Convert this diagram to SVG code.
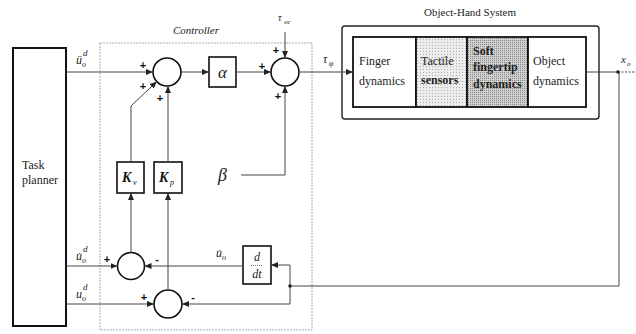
<svg xmlns="http://www.w3.org/2000/svg" width="636" height="334" viewBox="0 0 636 334">
<defs>
<marker id="ar" markerUnits="userSpaceOnUse" markerWidth="7" markerHeight="6" refX="7" refY="3" orient="auto">
<path d="M0,0 L7,3 L0,6 z" fill="#222"/>
</marker>
<pattern id="dots1" width="3" height="3" patternUnits="userSpaceOnUse">
<rect width="3" height="3" fill="#ececec"/><rect width="1" height="1" fill="#b0b0b0"/>
</pattern>
<pattern id="dots2" width="2" height="2" patternUnits="userSpaceOnUse">
<rect width="2" height="2" fill="#d0d0d0"/><rect width="1" height="1" fill="#888"/>
</pattern>
</defs>
<style>
.blk{fill:#fff;stroke:#111;stroke-width:1.6}
.sum{fill:#fff;stroke:#111;stroke-width:1.6}
.ln{fill:none;stroke:#444;stroke-width:1}
.t{font-family:"Liberation Serif","DejaVu Serif",serif;fill:#111}
.lbl{font-family:"Liberation Serif","DejaVu Serif",serif;font-size:11px;fill:#222}
.bx{font-family:"Liberation Serif","DejaVu Serif",serif;font-size:12px;fill:#222}
.sg{font-family:"Liberation Sans",sans-serif;font-size:11px;font-weight:bold;fill:#111}
.math{font-family:"Liberation Serif","DejaVu Serif",serif;font-style:italic;fill:#222}
</style>
<rect width="636" height="334" fill="#fff"/>

<g id="controller-frame">
<rect x="100" y="43" width="212" height="287" fill="none" stroke="#aaa" stroke-width="1" stroke-dasharray="2,1"/>
<text class="lbl" x="196" y="34" text-anchor="middle" font-style="italic">Controller</text>
</g>

<g id="task-planner">
<rect x="13" y="48" width="53" height="278" fill="#fff" stroke="#111" stroke-width="2"/>
<text class="bx" x="22" y="169" font-size="11">Task</text>
<text class="bx" x="22" y="184" font-size="11">planner</text>
</g>

<g id="sum1"><circle class="sum" cx="167" cy="72" r="14"/></g>
<g id="alpha"><rect class="blk" x="209" y="57" width="27" height="30"/><text class="math" x="222.5" y="78" font-size="17" text-anchor="middle">α</text></g>
<g id="sum2"><circle class="sum" cx="285" cy="72" r="14"/></g>
<g id="Kv"><rect class="blk" x="117" y="162" width="27" height="31"/><text class="t" x="122" y="182" font-size="14" font-weight="bold" font-style="italic">K</text><text class="t" x="133" y="185" font-size="8" font-style="italic">v</text></g>
<g id="Kp"><rect class="blk" x="154" y="162" width="28" height="31"/><text class="t" x="159" y="182" font-size="14" font-weight="bold" font-style="italic">K</text><text class="t" x="170" y="185" font-size="8" font-style="italic">p</text></g>
<g id="beta"><text class="math" x="218" y="181" font-size="18">β</text></g>
<g id="sum3"><circle class="sum" cx="131" cy="266" r="13.5"/></g>
<g id="sum4"><circle class="sum" cx="168" cy="304" r="14"/></g>
<g id="ddt"><rect class="blk" x="243" y="246" width="28" height="38"/>
<text class="math" x="257" y="261" font-size="12" text-anchor="middle">d</text>
<line x1="251" y1="265.5" x2="263" y2="265.5" stroke="#555" stroke-width="0.8" stroke-dasharray="1,1"/>
<text class="math" x="257" y="278" font-size="12" text-anchor="middle">dt</text></g>

<g id="object-hand-system">
<rect x="342" y="26" width="257" height="93" rx="3" fill="#fff" stroke="#222" stroke-width="1.4"/>
<text class="lbl" x="470" y="16" text-anchor="middle">Object-Hand System</text>
<rect x="353" y="37" width="63" height="70" fill="#fff" stroke="#111" stroke-width="1.8"/>
<rect x="416" y="37" width="51" height="70" fill="url(#dots1)" stroke="#111" stroke-width="1.8"/>
<rect x="467" y="37" width="61" height="70" fill="url(#dots2)" stroke="#111" stroke-width="1.8"/>
<rect x="528" y="37" width="58" height="70" fill="#fff" stroke="#111" stroke-width="1.8"/>
<text class="bx" x="359" y="65">Finger</text>
<text class="bx" x="359" y="85">dynamics</text>
<text class="bx" x="421" y="65">Tactile</text>
<text class="bx" x="421" y="84" font-weight="bold">sensors</text>
<text class="bx" x="473" y="55" font-weight="bold">Soft</text>
<text class="bx" x="473" y="71" font-weight="bold">fingertip</text>
<text class="bx" x="473" y="88" font-weight="bold">dynamics</text>
<text class="bx" x="533" y="65">Object</text>
<text class="bx" x="533" y="85">dynamics</text>
</g>

<g id="connectors">
<line class="ln" x1="66" y1="72" x2="153" y2="72" marker-end="url(#ar)"/>
<line class="ln" x1="181" y1="72" x2="209" y2="72" marker-end="url(#ar)"/>
<line class="ln" x1="236" y1="72" x2="271" y2="72" marker-end="url(#ar)"/>
<line class="ln" x1="285" y1="32" x2="285" y2="58" marker-end="url(#ar)"/>
<line class="ln" x1="299" y1="72" x2="353" y2="72" marker-end="url(#ar)"/>
<polyline class="ln" points="131,162 131,106 156.8,81.6" marker-end="url(#ar)"/>
<line class="ln" x1="168" y1="162" x2="168" y2="86" marker-end="url(#ar)"/>
<polyline class="ln" points="241,175 285,175 285,86" marker-end="url(#ar)"/>
<line class="ln" x1="131" y1="252.5" x2="131" y2="193" marker-end="url(#ar)"/>
<line class="ln" x1="168" y1="290" x2="168" y2="193" marker-end="url(#ar)"/>
<line class="ln" x1="66" y1="266" x2="117.5" y2="266" marker-end="url(#ar)"/>
<line class="ln" x1="66" y1="304" x2="154" y2="304" marker-end="url(#ar)"/>
<line class="ln" x1="243" y1="266" x2="144.5" y2="266" marker-end="url(#ar)"/>
<polyline class="ln" points="290,286 290,304 182,304" marker-end="url(#ar)"/>
<polyline class="ln" points="290,286 290,265 271,265" marker-end="url(#ar)"/>
<line class="ln" x1="586" y1="72" x2="618" y2="72"/>
<line class="ln" x1="618" y1="72" x2="636" y2="72" stroke-dasharray="2,1.5"/>
<polyline class="ln" points="619,72 619,286 290,286" stroke-width="1.3"/>
<circle cx="618" cy="72" r="1.8" fill="#222"/>
<circle cx="290" cy="286" r="1.8" fill="#222"/>
</g>

<g id="labels">
<text class="math" x="76" y="64" font-size="12">ü</text><text class="math" x="82" y="67" font-size="8">o</text><text class="math" x="83" y="56" font-size="9">d</text>
<text class="math" x="278" y="21" font-size="10">τ</text><text class="math" x="284" y="24" font-size="7">oc</text>
<text class="math" x="323" y="63" font-size="12">τ</text><text class="math" x="329" y="66" font-size="8">φ</text>
<text class="math" x="621" y="63" font-size="11">x</text><text class="math" x="627" y="66" font-size="7">o</text>
<text class="math" x="76" y="260" font-size="12">u̇</text><text class="math" x="82" y="263" font-size="8">o</text><text class="math" x="83" y="252" font-size="9">d</text>
<text class="math" x="76" y="298" font-size="12">u</text><text class="math" x="82" y="301" font-size="8">o</text><text class="math" x="83" y="290" font-size="9">d</text>
<text class="math" x="216" y="257" font-size="12">u̇</text><text class="math" x="222" y="260" font-size="8">o</text>
<text class="sg" x="143" y="69" text-anchor="middle">+</text>
<text class="sg" x="143" y="90" text-anchor="middle">+</text>
<text class="sg" x="160" y="102" text-anchor="middle">+</text>
<text class="sg" x="276" y="54" text-anchor="middle">+</text>
<text class="sg" x="262" y="70" text-anchor="middle">+</text>
<text class="sg" x="278" y="100" text-anchor="middle">+</text>
<text class="sg" x="107" y="263" text-anchor="middle">+</text>
<text class="sg" x="157" y="263" text-anchor="middle">-</text>
<text class="sg" x="144" y="301" text-anchor="middle">+</text>
<text class="sg" x="193" y="301" text-anchor="middle">-</text>
</g>
</svg>
